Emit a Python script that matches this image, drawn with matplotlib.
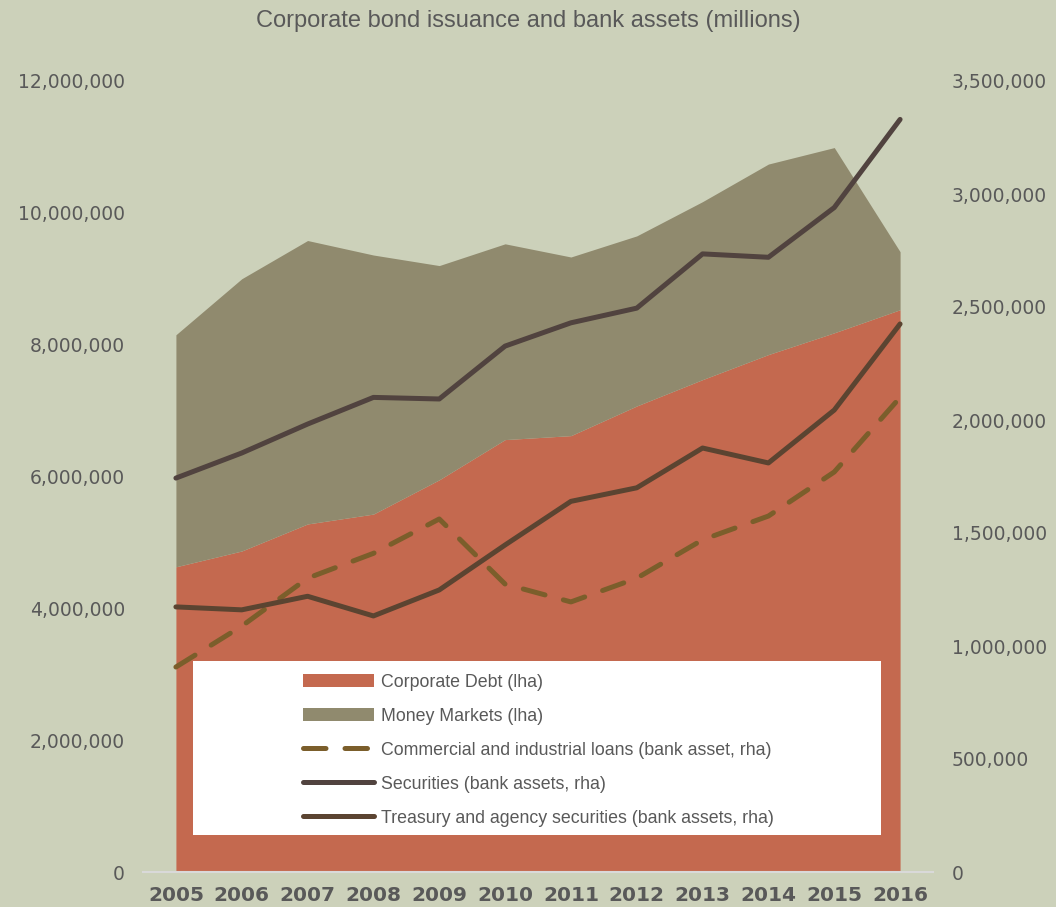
import numpy as np
import matplotlib
matplotlib.use("Agg")
import matplotlib.pyplot as plt
from matplotlib.patches import Rectangle
from matplotlib.ticker import FuncFormatter

years = [2005, 2006, 2007, 2008, 2009, 2010, 2011, 2012, 2013, 2014, 2015, 2016]

# left axis (stacked areas)
corporate_debt = [4630000, 4870000, 5280000, 5430000, 5950000, 6560000,
                  6620000, 7070000, 7470000, 7850000, 8180000, 8530000]
money_markets = [3520000, 4130000, 4300000, 3930000, 3250000, 2970000,
                 2710000, 2580000, 2700000, 2890000, 2810000, 880000]

# right axis (bank assets)
ci_loans = [907000, 1088000, 1300000, 1410000, 1562000, 1274000,
            1195000, 1300000, 1470000, 1575000, 1770000, 2100000]
securities = [1743000, 1854000, 1982000, 2100000, 2093000, 2327000,
              2430000, 2495000, 2735000, 2720000, 2940000, 3330000]
treasury = [1173000, 1160000, 1220000, 1133000, 1248000, 1447000,
            1640000, 1700000, 1876000, 1810000, 2044000, 2425000]

bg = "#CCD1BA"
c_debt = "#C4694F"
c_mm = "#908A6E"
c_ci = "#7B5E2B"
c_sec = "#51433F"
c_tre = "#5B4431"
txt = "#595959"
narrow = ["Liberation Sans", "DejaVu Sans"]

fig = plt.figure(figsize=(10.56, 9.07), dpi=100, facecolor=bg)
ax = fig.add_axes([143/1056, 1-872/907, 790/1056, 791/907])
ax.set_facecolor(bg)
ax2 = ax.twinx()

x = np.array(years)
d = np.array(corporate_debt)
m = np.array(money_markets)
ax.fill_between(x, 0, d, color=c_debt, lw=0, label="Corporate Debt (lha)")
ax.fill_between(x, d, d + m, color=c_mm, lw=0, label="Money Markets (lha)")
ax.set_xlim(2004.5, 2016.5)
ax.set_ylim(0, 12000000)
ax.set_yticks(np.arange(0, 12000001, 2000000))

lw = 3.6
ax2.plot(x, ci_loans, color=c_ci, lw=lw, dashes=(4.5, 3.8), dash_capstyle="round",
         solid_capstyle="round", label="Commercial and industrial loans (bank asset, rha)")
ax2.plot(x, securities, color=c_sec, lw=lw, solid_capstyle="round",
         label="Securities (bank assets, rha)")
ax2.plot(x, treasury, color=c_tre, lw=lw, solid_capstyle="round",
         label="Treasury and agency securities (bank assets, rha)")
ax2.set_ylim(0, 3500000)
ax2.set_yticks(np.arange(0, 3500001, 500000))

fmt = FuncFormatter(lambda v, p: "{:,.0f}".format(v))
for a in (ax, ax2):
    a.yaxis.set_major_formatter(fmt)
    for s in a.spines.values():
        s.set_visible(False)
    a.tick_params(length=0, labelsize=13.5, labelcolor=txt)
ax.spines["bottom"].set_visible(True)
ax.spines["bottom"].set_color("#D9D9D9")
ax.spines["bottom"].set_linewidth(1.5)
ax.tick_params(axis="y", pad=13)
ax2.tick_params(axis="y", pad=13.5)
ax.set_xticks(years)
ax.tick_params(axis="x", labelsize=14.5, pad=10)
for lab in ax.get_xticklabels():
    lab.set_fontweight("bold")

fig.text(0.5, 1-21/907, "Corporate bond issuance and bank assets (millions)",
         ha="center", va="center", fontsize=17, color=txt, family=narrow)

# white legend panel
ax2.add_patch(Rectangle((0.0633, 0.0468), 0.8709, 0.22, transform=ax2.transAxes,
                        facecolor="white", edgecolor="none", zorder=5))
h1, l1 = ax.get_legend_handles_labels()
h2, l2 = ax2.get_legend_handles_labels()
leg = ax2.legend(h1 + h2, l1 + l2, loc="upper left",
                 bbox_to_anchor=((303-143)/790, (872-674)/791), frameon=False,
                 handlelength=4.0, handleheight=0.75, handletextpad=0.4,
                 labelspacing=0.95, borderaxespad=0, borderpad=0,
                 prop={"family": narrow, "size": 12.8})
leg.set_zorder(6)
for t in leg.get_texts():
    t.set_color(txt)

fig.savefig("out.png", dpi=100, facecolor=bg)
